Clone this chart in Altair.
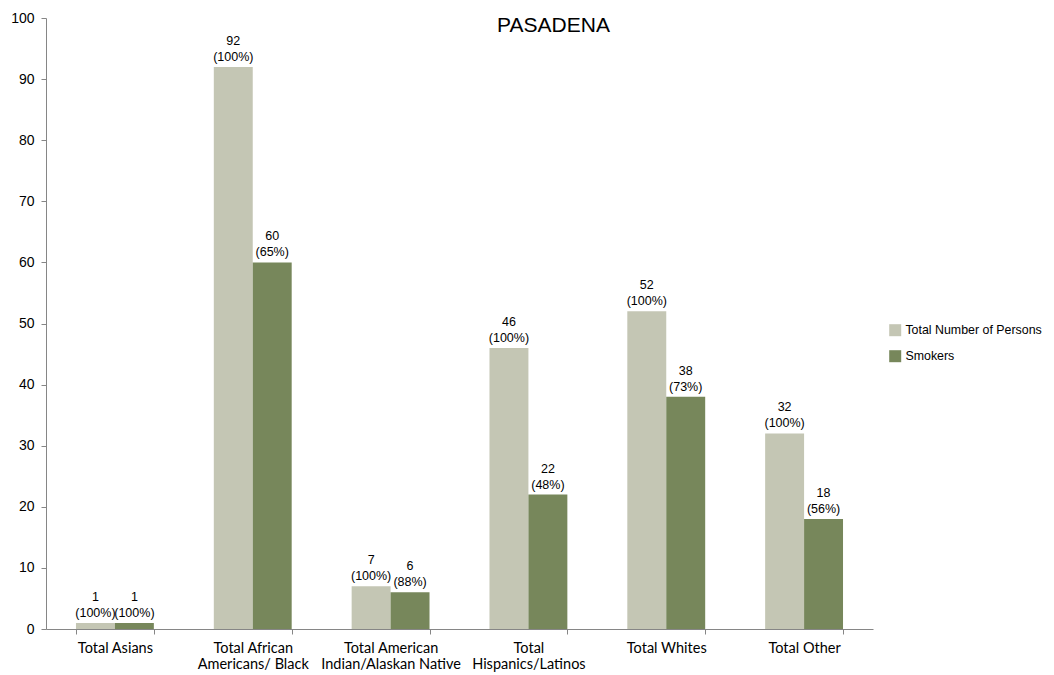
import altair as alt
import pandas as pd

categories = [
    "Total Asians",
    "Total African|Americans/ Black",
    "Total American|Indian/Alaskan Native",
    "Total|Hispanics/Latinos",
    "Total Whites",
    "Total Other",
]
series = ["Total Number of Persons", "Smokers"]
total_values = [1, 92, 7, 46, 52, 32]
smoker_values = [1, 60, 6, 22, 38, 18]
total_pct = ["(100%)", "(100%)", "(100%)", "(100%)", "(100%)", "(100%)"]
smoker_pct = ["(100%)", "(65%)", "(88%)", "(48%)", "(73%)", "(56%)"]
y_ticks = [0, 10, 20, 30, 40, 50, 60, 70, 80, 90, 100]
colors = ["#C4C6B4", "#77875B"]

rows = []
for i, c in enumerate(categories):
    rows.append({"cat": c, "series": series[0], "value": total_values[i],
                 "label": f"{total_values[i]}\n{total_pct[i]}"})
    rows.append({"cat": c, "series": series[1], "value": smoker_values[i],
                 "label": f"{smoker_values[i]}\n{smoker_pct[i]}"})
df = pd.DataFrame(rows)

x = alt.X("cat:N", sort=categories, title=None,
          scale=alt.Scale(paddingInner=0.435, paddingOuter=0.2175),
          axis=alt.Axis(labelAngle=0, labelExpr="split(datum.label, '|')",
                        labelFont="Lato", labelFontSize=14.5, labelColor="#000000",
                        labelPadding=7, labelLineHeight=16,
                        tickBand="extent", tickSize=5, tickColor="#868686",
                        domainColor="#868686", grid=False))
y = alt.Y("value:Q", title=None,
          scale=alt.Scale(domain=[0, 100], nice=False),
          axis=alt.Axis(values=y_ticks, labelFont="Liberation Sans", labelFontSize=14,
                        labelColor="#000000", tickSize=5, tickColor="#868686",
                        domainColor="#868686", grid=False, labelPadding=7))
xoff = alt.XOffset("series:N", sort=series)

bars = alt.Chart(df).mark_bar().encode(
    x=x, y=y, xOffset=xoff,
    color=alt.Color("series:N", sort=series, title=None,
                    scale=alt.Scale(domain=series, range=colors),
                    legend=alt.Legend(orient="none", legendX=843, legendY=306,
                                      symbolType="square", symbolSize=144,
                                      symbolStrokeWidth=0, labelOffset=4,
                                      labelFont="Liberation Sans", labelFontSize=12.4,
                                      labelColor="#000000", rowPadding=13,
                                      labelLimit=300)),
)

labels = alt.Chart(df).mark_text(
    baseline="bottom", dy=-19, lineBreak="\n", lineHeight=16,
    font="Liberation Sans", fontSize=12.5, color="#000000"
).encode(x=x, y=y, xOffset=xoff, text="label:N")

chart = alt.layer(bars, labels).properties(
    width=827, height=611,
    title=alt.TitleParams("PASADENA", font="Liberation Sans", fontSize=21,
                          fontWeight="normal", color="#000000", anchor="middle",
                          baseline="middle", offset=0, dx=94, dy=36),
    autosize=alt.AutoSizeParams(type="none"),
    padding={"left": 38, "top": 10, "right": 173, "bottom": 46},
).configure_view(stroke=None)

chart.save("out.html", embed_options={"renderer": "svg", "actions": False})
